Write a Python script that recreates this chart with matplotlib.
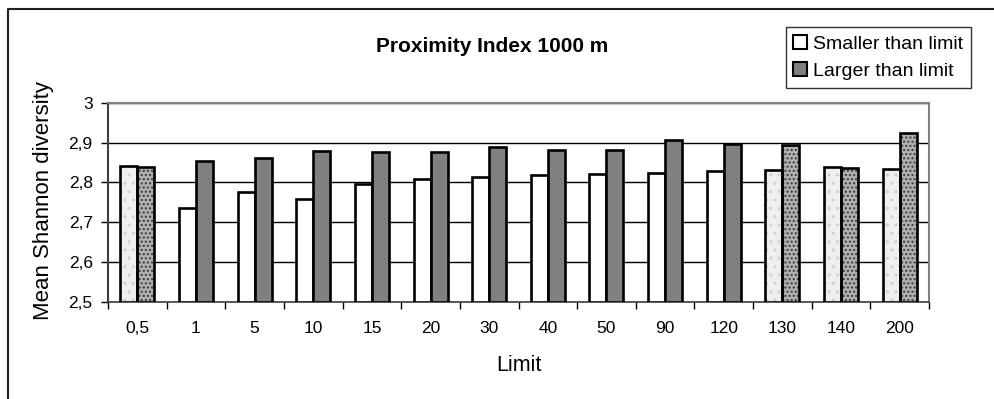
import numpy as np
import matplotlib
matplotlib.use('Agg')
import matplotlib.pyplot as plt
from matplotlib.patches import Patch
from matplotlib.lines import Line2D

plt.rcParams['font.family'] = ['Liberation Sans', 'DejaVu Sans']

limits = ['0,5', '1', '5', '10', '15', '20', '30', '40', '50', '90', '120', '130', '140', '200']
smaller = [2.840, 2.736, 2.775, 2.757, 2.795, 2.808, 2.813, 2.818, 2.820, 2.824, 2.828, 2.831, 2.839, 2.834]
larger = [2.839, 2.853, 2.862, 2.879, 2.877, 2.877, 2.888, 2.882, 2.880, 2.906, 2.896, 2.893, 2.835, 2.925]
# categories drawn with the speckled fill in the original
speckled = ['0,5', '130', '140', '200']

fig = plt.figure(figsize=(9.94, 3.99), dpi=100)
ax = fig.add_axes([108 / 994, 1 - 301.7 / 399, 821 / 994, 199 / 399])

x = np.arange(len(limits))
w = 0.29
base = 2.5
sm = np.array(smaller) - base
lg = np.array(larger) - base
tex = np.array([l in speckled for l in limits])

# plain bars
ax.bar(x[~tex] - w / 2, sm[~tex], w, bottom=base, color='white', edgecolor='black', linewidth=1.9, zorder=3)
ax.bar(x[~tex] + w / 2, lg[~tex], w, bottom=base, color='#808080', edgecolor='black', linewidth=1.9, zorder=3)
# speckled bars: texture first, then outline
ax.bar(x[tex] - w / 2, sm[tex], w, bottom=base, color='#efefef', edgecolor='#cfcfcf', hatch='..', linewidth=0, zorder=3)
ax.bar(x[tex] + w / 2, lg[tex], w, bottom=base, color='#b0b0b0', edgecolor='#3a3a3a', hatch='....', linewidth=0, zorder=3)
ax.bar(x[tex] - w / 2, sm[tex], w, bottom=base, color='none', edgecolor='black', linewidth=1.9, zorder=4)
ax.bar(x[tex] + w / 2, lg[tex], w, bottom=base, color='none', edgecolor='black', linewidth=1.9, zorder=4)

ax.set_xlim(-0.5, len(limits) - 0.5)
ax.set_ylim(2.5, 3.0)
yt = [2.5, 2.6, 2.7, 2.8, 2.9, 3.0]
ax.set_yticks(yt)
ax.set_yticklabels([('%g' % v).replace('.', ',') for v in yt], fontsize=12.5)
ax.set_xticks(x)
ax.set_xticklabels(limits, fontsize=12.5)
ax.set_xticks(np.arange(len(limits) + 1) - 0.5, minor=True)
ax.tick_params(axis='x', which='major', length=0, pad=14)
ax.tick_params(axis='x', which='minor', length=5, width=1, direction='out')
ax.tick_params(axis='y', length=5, width=1, direction='out', pad=6)

ax.yaxis.grid(True, color='black', linewidth=1)
ax.set_axisbelow(True)
for s in ['top', 'right']:
    ax.spines[s].set_color('#808080')
    ax.spines[s].set_linewidth(1.5)
ax.spines['left'].set_color('#404040')
ax.spines['left'].set_linewidth(1.5)
ax.spines['bottom'].set_color('#404040')
ax.spines['bottom'].set_linewidth(1.2)

fig.text(492 / 994, 1 - 52.3 / 399, 'Proximity Index 1000 m', fontsize=15, fontweight='bold',
         ha='center', va='baseline')
fig.text(44 / 994, 1 - 200 / 399, 'Mean Shannon diversity', fontsize=16, rotation=90,
         ha='center', va='center')
fig.text(519 / 994, 1 - 371 / 399, 'Limit', fontsize=15.5, ha='center', va='baseline')

handles = [Patch(facecolor='white', edgecolor='black', linewidth=1.5),
           Patch(facecolor='#808080', edgecolor='black', linewidth=1.5)]
leg = fig.legend(handles, ['Smaller than limit', 'Larger than limit'], loc='upper right',
                 bbox_to_anchor=(970.7 / 994, 1 - 27.3 / 399), fontsize=14, frameon=True,
                 fancybox=False, edgecolor='black', handlelength=0.7, handleheight=0.7,
                 handletextpad=0.3, labelspacing=0.5, borderpad=0.4, borderaxespad=0)
leg.get_frame().set_linewidth(1)

# outer chart border (cropped at right and bottom)
fig.add_artist(Line2D([8 / 994, 8 / 994, 1], [0, 1 - 9 / 399, 1 - 9 / 399], color='#202020', linewidth=1.5))

fig.savefig('out.png', dpi=100)
